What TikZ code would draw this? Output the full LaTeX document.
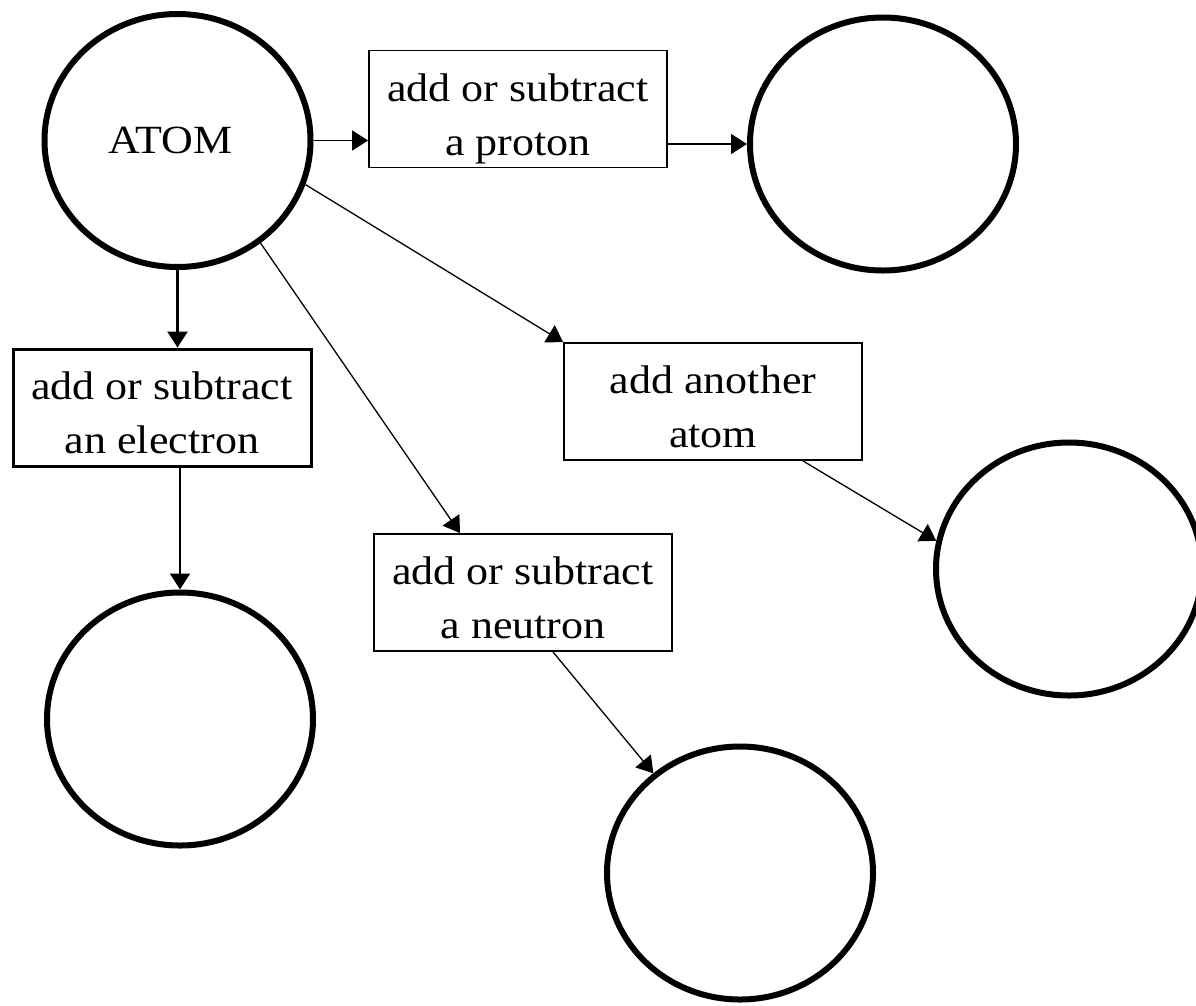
\documentclass[tikz,border=0pt]{standalone}
\usepackage{fontspec}
\setmainfont{Liberation Serif}[FakeStretch=1.1]
\usetikzlibrary{shapes.geometric,arrows.meta,calc}
\newcommand\mytopstrut{\rule{0pt}{48pt}}
\newcommand\mybotstrut{\rule[-10pt]{0pt}{10pt}}
\begin{document}
\begin{tikzpicture}[x=1pt,y=-1pt,
  ring/.style={draw, ellipse, line width=6pt, minimum width=266pt, minimum height=253pt, inner sep=0pt,
    font=\fontsize{40}{54}\selectfont},
  box/.style={draw, rectangle, line width=1.8pt, minimum width=298pt, minimum height=117pt,
    align=center, inner sep=0pt, font=\fontsize{40}{54}\selectfont},
  arr/.style={-{Triangle[length=16pt,width=20pt]}, line width=1.6pt},
  thinarr/.style={arr, line width=1.3pt},
]
\useasboundingbox (0,0) rectangle (1196,1005);
\fill[white] (0,0) rectangle (1196,1005);

% circles
\node[ring] (atom) at (177.5,140.5) {\hspace*{-14pt}ATOM};
\node[ring] (c1) at (883,144) {};
\node[ring] (c2) at (180,719) {};
\node[ring] (c3) at (1069,569) {};
\node[ring] (c4) at (740,873) {};

% boxes
\node[box] (proton) at (518,109) {\mytopstrut add or subtract\\a proton\mybotstrut};
\node[box, line width=3pt] (elec) at (162,407.5) {\mytopstrut add or subtract\\an electron\mybotstrut};
\node[box] (anot) at (713,401.5) {\mytopstrut add another\\atom\mybotstrut};
\node[box] (neut) at (523,592.5) {\mytopstrut add or subtract\\a neutron\mybotstrut};

% connectors
\draw[arr] (atom.east) -- (atom.east -| proton.west);
\draw[arr] (proton.east |- c1.west) -- (c1.west);
\draw[arr, line width=2.6pt] (atom.south) -- (atom.south |- elec.north);
\draw[arr] (c2.north |- elec.south) -- (c2.north);
\draw[thinarr] (atom.-19) -- (anot.north west);
\draw[thinarr] (atom.-51) -- ($(neut.north west)!0.29!(neut.north east)$);
\draw[thinarr] ($(anot.south west)!0.8!(anot.south east)$) -- (c3.168);
\draw[thinarr] ($(neut.south west)!0.6!(neut.south east)$) -- (c4.131);
\end{tikzpicture}
\end{document}
